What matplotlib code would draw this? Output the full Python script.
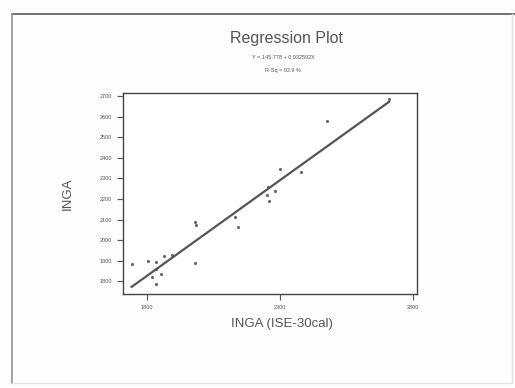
import numpy as np
import matplotlib.pyplot as plt
from matplotlib.lines import Line2D

# INGA (ISE-30cal) vs INGA
ise30 = [1744, 1806, 1835, 1822, 1835, 1856, 1865, 1894, 1837, 1981, 1985, 1981,
         2131, 2144, 2250, 2260, 2256, 2281, 2302, 2381, 2475, 2710]
inga = [1882, 1898, 1893, 1818, 1785, 1834, 1922, 1926, 1861, 2087, 2071, 1889,
        2111, 2063, 2221, 2188, 2256, 2237, 2345, 2329, 2579, 2684]

b0 = 145.778
b1 = 0.932592
r_sq = 92.9

xticks = [1800, 2300, 2800]
yticks = [1800, 1900, 2000, 2100, 2200, 2300, 2400, 2500, 2600, 2700]

plt.rcParams['font.family'] = ['Liberation Sans', 'DejaVu Sans']
txt = '#555555'

fig = plt.figure(figsize=(5.15, 3.88), dpi=100)
fig.patch.set_facecolor('#fdfdfd')

# page border of the scan (top and left dark, others faint)
fig.lines.append(Line2D([0.023, 1.0], [0.964, 0.964], transform=fig.transFigure,
                        color='#666666', linewidth=1.3))
fig.lines.append(Line2D([0.023, 0.023], [0.012, 0.964], transform=fig.transFigure,
                        color='#999999', linewidth=1.3))
fig.lines.append(Line2D([0.995, 0.995], [0.012, 0.964], transform=fig.transFigure,
                        color='#e4e4e4', linewidth=1.0))
fig.lines.append(Line2D([0.023, 0.995], [0.014, 0.014], transform=fig.transFigure,
                        color='#e4e4e4', linewidth=1.0))

ax = fig.add_axes([0.238, 0.242, 0.572, 0.518])
ax.set_facecolor('white')

xs = np.array([min(ise30), max(ise30)])
ax.plot(xs, b0 + b1 * xs, color='#555555', linewidth=1.6)
ax.scatter(ise30, inga, s=5, color='#666666', marker='o', linewidths=0)

ax.set_xlim(1710, 2815)
ax.set_ylim(1737, 2715)
ax.set_xticks(xticks)
ax.set_yticks(yticks)
ax.tick_params(labelsize=4, colors=txt, length=4, width=0.8)
for s in ax.spines.values():
    s.set_color('#444444')
    s.set_linewidth(1.0)

ax.set_xlabel('INGA (ISE-30cal)', fontsize=9.5, color=txt)
ax.xaxis.set_label_coords(0.54, -0.12)
ax.set_ylabel('INGA', fontsize=9.5, color=txt)
ax.yaxis.set_label_coords(-0.165, 0.5)

fig.text(0.556, 0.9, 'Regression Plot', ha='center', va='center', fontsize=11.5, color=txt)
fig.text(0.55, 0.853, 'Y = %.3f + %.6fX' % (b0, b1), ha='center', va='center',
         fontsize=4, color=txt)
fig.text(0.55, 0.819, 'R-Sq = %.1f %%' % r_sq, ha='center', va='center',
         fontsize=4, color=txt)

fig.savefig('out.png', dpi=100, facecolor=fig.get_facecolor())
